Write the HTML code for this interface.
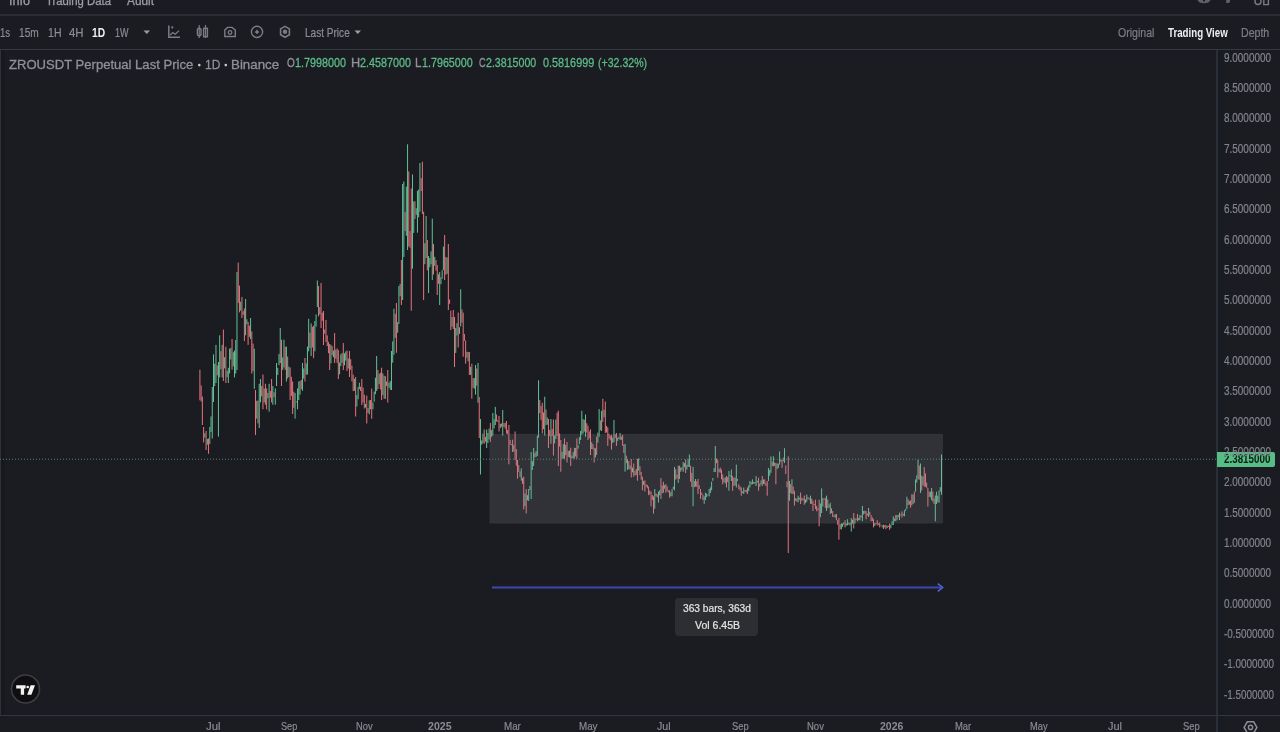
<!DOCTYPE html>
<html><head><meta charset="utf-8"><style>
*{margin:0;padding:0;box-sizing:border-box}
html,body{width:1280px;height:732px;overflow:hidden;background:#1b1c21;font-family:"Liberation Sans",sans-serif}
.abs{position:absolute}
.tx{position:absolute;white-space:nowrap;transform-origin:0 0}
#sep1{position:absolute;left:0;top:14px;width:1280px;height:2px;background:#2a2d36}
#sep2{position:absolute;left:0;top:49px;width:1280px;height:1px;background:#373941}
#lborder{position:absolute;left:0;top:50px;width:1px;height:665px;background:#2f3138}
#lstrip{position:absolute;left:1px;top:50px;width:4px;height:665px;background:#18191e}
#pstrip{position:absolute;left:1218px;top:50px;width:6px;height:682px;background:#191b23}
#pborder{position:absolute;left:1216px;top:50px;width:2px;height:682px;background:#2c2e36}
#tborder{position:absolute;left:0;top:715px;width:1280px;height:1px;background:#34363e}
</style></head><body>
<div id="sep1"></div>
<div id="sep2"></div>
<div id="lborder"></div><div id="lstrip"></div><div id="pstrip"></div>
<div id="pborder"></div>
<div id="tborder"></div>

<svg class="abs" style="left:0;top:0" width="400" height="50" viewBox="0 0 400 50">
<path d="M143.5 30.5 L150 30.5 L146.75 34 Z" fill="#9a9ca4"/>
<path d="M168.8 25.5 V37.2 H180" fill="none" stroke="#7b7d86" stroke-width="1.5"/>
<circle cx="172.3" cy="27.4" r="1.1" fill="#7b7d86"/>
<path d="M170 35 L172.8 32.6 L175.3 34.2 L179 30.6" fill="none" stroke="#7b7d86" stroke-width="1.3"/>
<path d="M199.2 25 V38 M205.5 25 V38" stroke="#7b7d86" stroke-width="1.2"/>
<rect x="197.4" y="28.3" width="3.6" height="7.6" rx="1.8" fill="none" stroke="#7b7d86" stroke-width="1.4"/>
<rect x="203.6" y="28.3" width="3.8" height="8.4" fill="none" stroke="#7b7d86" stroke-width="1.4"/>
<path d="M224.8 30 L227.5 27.4 L232 27.4 L235.3 30 V36.5 H224.8 Z" fill="none" stroke="#7b7d86" stroke-width="1.4"/>
<circle cx="230" cy="32.5" r="1.8" fill="none" stroke="#7b7d86" stroke-width="1.3"/>
<circle cx="257" cy="31.9" r="5.6" fill="none" stroke="#7b7d86" stroke-width="1.4"/>
<path d="M257 29.3 L258 30.9 L259.6 31.9 L258 32.9 L257 34.5 L256 32.9 L254.4 31.9 L256 30.9 Z" fill="#7b7d86"/>
<path d="M285 26.4 L289.4 28.9 V34.8 L285 37.3 L280.6 34.8 V28.9 Z" fill="none" stroke="#7b7d86" stroke-width="1.6"/>
<circle cx="285" cy="31.8" r="2.2" fill="#7b7d86"/>
<path d="M354.5 30.5 L361 30.5 L357.75 34 Z" fill="#9a9ca4"/>
</svg>
<svg class="abs" style="left:1190px;top:0" width="90" height="8" viewBox="1190 0 90 8">
<path d="M1197.5 0 H1210.5 Q1209 3.3 1204 3.3 Q1199 3.3 1197.5 0Z" fill="#5f616a"/>
<circle cx="1204" cy="0.6" r="1.1" fill="#1b1c21"/>
<path d="M1226.2 0 H1230 V1.5 L1229 3 H1226.2 Z" fill="#5f616a"/>
<path d="M1255.6 -2 A3 3 0 0 0 1260.4 -2" fill="none" stroke="#8f9199" stroke-width="0"/>
<circle cx="1258" cy="1.5" r="3" fill="none" stroke="#7a7c85" stroke-width="1.4"/>
<path d="M1263.8 0 V4.6 H1268.4 V0" fill="none" stroke="#7a7c85" stroke-width="1.4"/>
</svg>
<svg class="abs" style="left:0;top:0;filter:blur(0.4px)" width="1216" height="714" viewBox="0 0 1216 714">
<rect x="199.40" y="369.7" width="1.0" height="30.6" fill="#e6747d"/><rect x="200.64" y="385.5" width="1.0" height="16.0" fill="#e6747d"/><rect x="201.87" y="396.5" width="1.0" height="28.5" fill="#e6747d"/><rect x="203.11" y="427.0" width="1.0" height="15.4" fill="#e6747d"/><rect x="204.34" y="433.3" width="1.0" height="4.3" fill="#62c196"/><rect x="205.58" y="431.0" width="1.0" height="19.0" fill="#e6747d"/><rect x="206.82" y="438.9" width="1.0" height="5.8" fill="#62c196"/><rect x="208.05" y="438.5" width="1.0" height="15.3" fill="#e6747d"/><rect x="209.29" y="427.0" width="1.0" height="17.0" fill="#62c196"/><rect x="210.52" y="416.4" width="1.0" height="15.5" fill="#62c196"/><rect x="211.76" y="387.0" width="1.0" height="51.5" fill="#62c196"/><rect x="213.00" y="354.4" width="1.0" height="47.6" fill="#62c196"/><rect x="214.23" y="363.7" width="1.0" height="22.4" fill="#62c196"/><rect x="215.47" y="344.9" width="1.0" height="38.1" fill="#62c196"/><rect x="216.70" y="365.4" width="1.0" height="9.9" fill="#e6747d"/><rect x="217.94" y="362.0" width="1.0" height="74.6" fill="#62c196"/><rect x="219.18" y="335.3" width="1.0" height="42.1" fill="#62c196"/><rect x="220.41" y="351.2" width="1.0" height="17.9" fill="#e6747d"/><rect x="221.65" y="344.9" width="1.0" height="32.5" fill="#62c196"/><rect x="222.88" y="329.6" width="1.0" height="51.4" fill="#e6747d"/><rect x="224.12" y="357.2" width="1.0" height="11.1" fill="#62c196"/><rect x="225.36" y="346.8" width="1.0" height="36.2" fill="#e6747d"/><rect x="226.59" y="370.9" width="1.0" height="6.3" fill="#62c196"/><rect x="227.83" y="367.8" width="1.0" height="15.2" fill="#62c196"/><rect x="229.06" y="348.7" width="1.0" height="24.8" fill="#62c196"/><rect x="230.30" y="348.0" width="1.0" height="11.5" fill="#62c196"/><rect x="231.54" y="339.0" width="1.0" height="30.7" fill="#e6747d"/><rect x="232.77" y="352.3" width="1.0" height="14.0" fill="#62c196"/><rect x="234.01" y="350.6" width="1.0" height="26.8" fill="#62c196"/><rect x="235.24" y="340.0" width="1.0" height="33.5" fill="#62c196"/><rect x="236.48" y="272.0" width="1.0" height="98.0" fill="#62c196"/><rect x="237.72" y="262.6" width="1.0" height="40.2" fill="#e6747d"/><rect x="238.95" y="285.6" width="1.0" height="26.8" fill="#e6747d"/><rect x="240.19" y="301.7" width="1.0" height="8.9" fill="#62c196"/><rect x="241.42" y="297.0" width="1.0" height="21.0" fill="#e6747d"/><rect x="242.66" y="311.2" width="1.0" height="3.6" fill="#e6747d"/><rect x="243.90" y="308.5" width="1.0" height="32.5" fill="#e6747d"/><rect x="245.13" y="299.0" width="1.0" height="36.3" fill="#62c196"/><rect x="246.37" y="319.3" width="1.0" height="4.9" fill="#62c196"/><rect x="247.60" y="322.0" width="1.0" height="22.9" fill="#e6747d"/><rect x="248.84" y="325.6" width="1.0" height="11.2" fill="#e6747d"/><rect x="250.08" y="318.0" width="1.0" height="21.0" fill="#62c196"/><rect x="251.31" y="331.5" width="1.0" height="42.0" fill="#e6747d"/><rect x="252.55" y="343.6" width="1.0" height="27.4" fill="#e6747d"/><rect x="253.78" y="348.7" width="1.0" height="40.1" fill="#62c196"/><rect x="255.02" y="390.0" width="1.0" height="45.0" fill="#e6747d"/><rect x="256.26" y="400.8" width="1.0" height="17.8" fill="#62c196"/><rect x="257.49" y="400.5" width="1.0" height="22.9" fill="#e6747d"/><rect x="258.73" y="383.8" width="1.0" height="44.2" fill="#62c196"/><rect x="259.96" y="379.0" width="1.0" height="23.4" fill="#62c196"/><rect x="261.20" y="386.0" width="1.0" height="10.4" fill="#e6747d"/><rect x="262.44" y="374.5" width="1.0" height="34.8" fill="#e6747d"/><rect x="263.67" y="388.6" width="1.0" height="13.8" fill="#62c196"/><rect x="264.91" y="383.8" width="1.0" height="20.9" fill="#e6747d"/><rect x="266.14" y="388.4" width="1.0" height="20.9" fill="#e6747d"/><rect x="267.38" y="392.9" width="1.0" height="5.4" fill="#62c196"/><rect x="268.62" y="383.8" width="1.0" height="27.9" fill="#62c196"/><rect x="269.85" y="391.0" width="1.0" height="6.7" fill="#e6747d"/><rect x="271.09" y="379.0" width="1.0" height="23.4" fill="#e6747d"/><rect x="272.32" y="386.0" width="1.0" height="18.7" fill="#62c196"/><rect x="273.56" y="392.3" width="1.0" height="4.9" fill="#e6747d"/><rect x="274.80" y="388.4" width="1.0" height="16.3" fill="#62c196"/><rect x="276.03" y="363.0" width="1.0" height="23.0" fill="#62c196"/><rect x="277.27" y="367.8" width="1.0" height="7.1" fill="#62c196"/><rect x="278.50" y="353.9" width="1.0" height="11.3" fill="#62c196"/><rect x="279.74" y="328.0" width="1.0" height="35.0" fill="#62c196"/><rect x="280.98" y="339.7" width="1.0" height="46.3" fill="#e6747d"/><rect x="282.21" y="357.5" width="1.0" height="12.4" fill="#62c196"/><rect x="283.45" y="339.7" width="1.0" height="27.8" fill="#62c196"/><rect x="284.68" y="346.7" width="1.0" height="23.2" fill="#e6747d"/><rect x="285.92" y="346.6" width="1.0" height="34.9" fill="#62c196"/><rect x="287.16" y="356.6" width="1.0" height="21.8" fill="#e6747d"/><rect x="288.39" y="366.6" width="1.0" height="10.4" fill="#62c196"/><rect x="289.63" y="367.5" width="1.0" height="32.5" fill="#e6747d"/><rect x="290.86" y="376.8" width="1.0" height="19.1" fill="#e6747d"/><rect x="292.10" y="381.5" width="1.0" height="32.5" fill="#e6747d"/><rect x="293.34" y="391.7" width="1.0" height="16.1" fill="#e6747d"/><rect x="294.57" y="393.0" width="1.0" height="25.6" fill="#62c196"/><rect x="295.81" y="401.4" width="1.0" height="1.0" fill="#e6747d"/><rect x="297.04" y="388.4" width="1.0" height="20.9" fill="#62c196"/><rect x="298.28" y="381.5" width="1.0" height="18.5" fill="#62c196"/><rect x="299.52" y="381.0" width="1.0" height="13.6" fill="#62c196"/><rect x="300.75" y="379.9" width="1.0" height="9.2" fill="#e6747d"/><rect x="301.99" y="363.0" width="1.0" height="27.8" fill="#62c196"/><rect x="303.22" y="368.4" width="1.0" height="10.2" fill="#62c196"/><rect x="304.46" y="358.0" width="1.0" height="23.5" fill="#e6747d"/><rect x="305.70" y="363.3" width="1.0" height="11.4" fill="#62c196"/><rect x="306.93" y="346.6" width="1.0" height="27.9" fill="#62c196"/><rect x="308.17" y="318.8" width="1.0" height="32.5" fill="#62c196"/><rect x="309.40" y="332.6" width="1.0" height="15.5" fill="#e6747d"/><rect x="310.64" y="323.4" width="1.0" height="32.6" fill="#62c196"/><rect x="311.88" y="326.8" width="1.0" height="20.7" fill="#e6747d"/><rect x="313.11" y="325.7" width="1.0" height="32.5" fill="#e6747d"/><rect x="314.35" y="321.0" width="1.0" height="30.3" fill="#62c196"/><rect x="315.58" y="314.5" width="1.0" height="12.1" fill="#62c196"/><rect x="316.82" y="280.5" width="1.0" height="26.5" fill="#62c196"/><rect x="318.06" y="286.0" width="1.0" height="30.4" fill="#e6747d"/><rect x="319.29" y="307.1" width="1.0" height="7.4" fill="#62c196"/><rect x="320.53" y="283.0" width="1.0" height="45.0" fill="#e6747d"/><rect x="321.76" y="312.7" width="1.0" height="8.0" fill="#e6747d"/><rect x="323.00" y="311.0" width="1.0" height="34.0" fill="#e6747d"/><rect x="324.24" y="329.6" width="1.0" height="4.0" fill="#e6747d"/><rect x="325.47" y="320.0" width="1.0" height="22.0" fill="#e6747d"/><rect x="326.71" y="335.4" width="1.0" height="10.7" fill="#e6747d"/><rect x="327.94" y="341.8" width="1.0" height="11.4" fill="#e6747d"/><rect x="329.18" y="344.0" width="1.0" height="26.0" fill="#e6747d"/><rect x="330.42" y="344.8" width="1.0" height="18.5" fill="#62c196"/><rect x="331.65" y="346.2" width="1.0" height="9.0" fill="#e6747d"/><rect x="332.89" y="350.6" width="1.0" height="6.6" fill="#62c196"/><rect x="334.12" y="333.0" width="1.0" height="30.0" fill="#e6747d"/><rect x="335.36" y="349.5" width="1.0" height="9.1" fill="#62c196"/><rect x="336.60" y="348.4" width="1.0" height="14.5" fill="#e6747d"/><rect x="337.83" y="350.0" width="1.0" height="29.0" fill="#e6747d"/><rect x="339.07" y="362.5" width="1.0" height="11.8" fill="#62c196"/><rect x="340.30" y="354.3" width="1.0" height="11.7" fill="#62c196"/><rect x="341.54" y="353.1" width="1.0" height="9.7" fill="#62c196"/><rect x="342.78" y="343.0" width="1.0" height="27.0" fill="#e6747d"/><rect x="344.01" y="353.3" width="1.0" height="12.0" fill="#62c196"/><rect x="345.25" y="351.6" width="1.0" height="9.0" fill="#62c196"/><rect x="346.48" y="350.5" width="1.0" height="20.5" fill="#e6747d"/><rect x="347.72" y="358.4" width="1.0" height="10.1" fill="#62c196"/><rect x="348.96" y="351.0" width="1.0" height="26.0" fill="#e6747d"/><rect x="350.19" y="359.2" width="1.0" height="10.5" fill="#e6747d"/><rect x="351.43" y="365.7" width="1.0" height="15.7" fill="#e6747d"/><rect x="352.66" y="374.7" width="1.0" height="16.4" fill="#e6747d"/><rect x="353.90" y="378.8" width="1.0" height="12.0" fill="#62c196"/><rect x="355.14" y="377.0" width="1.0" height="39.5" fill="#e6747d"/><rect x="356.37" y="395.2" width="1.0" height="11.4" fill="#62c196"/><rect x="357.61" y="387.1" width="1.0" height="12.1" fill="#62c196"/><rect x="358.84" y="382.7" width="1.0" height="6.4" fill="#62c196"/><rect x="360.08" y="386.7" width="1.0" height="4.3" fill="#e6747d"/><rect x="361.32" y="379.0" width="1.0" height="26.0" fill="#e6747d"/><rect x="362.55" y="387.6" width="1.0" height="14.9" fill="#e6747d"/><rect x="363.79" y="394.7" width="1.0" height="13.8" fill="#e6747d"/><rect x="365.02" y="403.9" width="1.0" height="3.6" fill="#62c196"/><rect x="366.26" y="395.6" width="1.0" height="27.9" fill="#e6747d"/><rect x="367.50" y="408.0" width="1.0" height="4.9" fill="#e6747d"/><rect x="368.73" y="400.3" width="1.0" height="14.0" fill="#62c196"/><rect x="369.97" y="400.0" width="1.0" height="9.2" fill="#e6747d"/><rect x="371.20" y="388.6" width="1.0" height="30.2" fill="#e6747d"/><rect x="372.44" y="402.5" width="1.0" height="6.7" fill="#62c196"/><rect x="373.68" y="391.6" width="1.0" height="10.1" fill="#62c196"/><rect x="374.91" y="377.7" width="1.0" height="16.5" fill="#62c196"/><rect x="376.15" y="356.0" width="1.0" height="35.0" fill="#62c196"/><rect x="377.38" y="370.0" width="1.0" height="19.0" fill="#e6747d"/><rect x="378.62" y="373.8" width="1.0" height="10.5" fill="#62c196"/><rect x="379.86" y="372.7" width="1.0" height="16.7" fill="#e6747d"/><rect x="381.09" y="367.7" width="1.0" height="32.3" fill="#e6747d"/><rect x="382.33" y="373.3" width="1.0" height="21.8" fill="#62c196"/><rect x="383.56" y="375.7" width="1.0" height="22.9" fill="#e6747d"/><rect x="384.80" y="376.2" width="1.0" height="22.8" fill="#62c196"/><rect x="386.04" y="381.5" width="1.0" height="4.4" fill="#e6747d"/><rect x="387.27" y="370.0" width="1.0" height="32.6" fill="#e6747d"/><rect x="388.51" y="382.8" width="1.0" height="4.9" fill="#62c196"/><rect x="389.74" y="381.0" width="1.0" height="8.8" fill="#62c196"/><rect x="390.98" y="351.0" width="1.0" height="39.0" fill="#62c196"/><rect x="392.22" y="341.4" width="1.0" height="21.3" fill="#62c196"/><rect x="393.45" y="308.8" width="1.0" height="45.9" fill="#62c196"/><rect x="394.69" y="313.8" width="1.0" height="24.1" fill="#e6747d"/><rect x="395.92" y="303.0" width="1.0" height="49.8" fill="#e6747d"/><rect x="397.16" y="322.2" width="1.0" height="10.5" fill="#62c196"/><rect x="398.40" y="286.0" width="1.0" height="38.0" fill="#62c196"/><rect x="399.63" y="283.8" width="1.0" height="12.4" fill="#62c196"/><rect x="400.87" y="260.0" width="1.0" height="45.0" fill="#e6747d"/><rect x="402.10" y="184.0" width="1.0" height="116.0" fill="#62c196"/><rect x="403.34" y="181.5" width="1.0" height="75.5" fill="#62c196"/><rect x="404.58" y="212.0" width="1.0" height="19.1" fill="#e6747d"/><rect x="405.81" y="186.7" width="1.0" height="49.0" fill="#62c196"/><rect x="407.05" y="144.3" width="1.0" height="105.7" fill="#62c196"/><rect x="408.28" y="171.4" width="1.0" height="75.1" fill="#e6747d"/><rect x="409.52" y="231.1" width="1.0" height="16.6" fill="#e6747d"/><rect x="410.76" y="188.5" width="1.0" height="122.2" fill="#e6747d"/><rect x="411.99" y="174.5" width="1.0" height="94.2" fill="#62c196"/><rect x="413.23" y="201.4" width="1.0" height="31.5" fill="#62c196"/><rect x="414.46" y="201.3" width="1.0" height="17.7" fill="#e6747d"/><rect x="415.70" y="208.2" width="1.0" height="6.7" fill="#62c196"/><rect x="416.94" y="190.8" width="1.0" height="41.9" fill="#62c196"/><rect x="418.17" y="189.5" width="1.0" height="27.8" fill="#62c196"/><rect x="419.41" y="163.0" width="1.0" height="48.7" fill="#62c196"/><rect x="420.64" y="178.2" width="1.0" height="12.8" fill="#e6747d"/><rect x="421.88" y="161.7" width="1.0" height="52.3" fill="#e6747d"/><rect x="423.12" y="211.7" width="1.0" height="88.3" fill="#e6747d"/><rect x="424.35" y="243.2" width="1.0" height="21.0" fill="#62c196"/><rect x="425.59" y="216.0" width="1.0" height="42.0" fill="#62c196"/><rect x="426.82" y="240.0" width="1.0" height="30.3" fill="#e6747d"/><rect x="428.06" y="256.0" width="1.0" height="37.0" fill="#62c196"/><rect x="429.30" y="258.1" width="1.0" height="9.1" fill="#62c196"/><rect x="430.53" y="251.4" width="1.0" height="12.9" fill="#62c196"/><rect x="431.77" y="218.7" width="1.0" height="61.3" fill="#62c196"/><rect x="433.00" y="244.0" width="1.0" height="30.5" fill="#e6747d"/><rect x="434.24" y="256.8" width="1.0" height="8.9" fill="#62c196"/><rect x="435.48" y="260.1" width="1.0" height="10.5" fill="#e6747d"/><rect x="436.71" y="265.0" width="1.0" height="30.0" fill="#e6747d"/><rect x="437.95" y="274.2" width="1.0" height="9.5" fill="#e6747d"/><rect x="439.18" y="272.0" width="1.0" height="33.0" fill="#62c196"/><rect x="440.42" y="277.2" width="1.0" height="7.0" fill="#62c196"/><rect x="441.66" y="270.1" width="1.0" height="8.6" fill="#62c196"/><rect x="442.89" y="246.6" width="1.0" height="23.4" fill="#62c196"/><rect x="444.13" y="235.0" width="1.0" height="45.0" fill="#e6747d"/><rect x="445.36" y="257.0" width="1.0" height="17.7" fill="#e6747d"/><rect x="446.60" y="257.5" width="1.0" height="16.3" fill="#62c196"/><rect x="447.84" y="244.0" width="1.0" height="66.0" fill="#e6747d"/><rect x="449.07" y="299.5" width="1.0" height="4.3" fill="#e6747d"/><rect x="450.31" y="310.7" width="1.0" height="19.3" fill="#e6747d"/><rect x="451.54" y="317.0" width="1.0" height="9.6" fill="#62c196"/><rect x="452.78" y="310.0" width="1.0" height="19.0" fill="#e6747d"/><rect x="454.02" y="317.0" width="1.0" height="50.0" fill="#e6747d"/><rect x="455.25" y="327.9" width="1.0" height="25.0" fill="#62c196"/><rect x="456.49" y="323.2" width="1.0" height="12.3" fill="#62c196"/><rect x="457.72" y="312.6" width="1.0" height="34.8" fill="#e6747d"/><rect x="458.96" y="327.3" width="1.0" height="6.6" fill="#62c196"/><rect x="460.20" y="289.3" width="1.0" height="37.2" fill="#62c196"/><rect x="461.43" y="309.5" width="1.0" height="13.2" fill="#e6747d"/><rect x="462.67" y="312.6" width="1.0" height="44.1" fill="#e6747d"/><rect x="463.90" y="333.9" width="1.0" height="6.9" fill="#e6747d"/><rect x="465.14" y="340.5" width="1.0" height="23.2" fill="#e6747d"/><rect x="466.38" y="351.7" width="1.0" height="6.0" fill="#e6747d"/><rect x="467.61" y="352.0" width="1.0" height="9.3" fill="#62c196"/><rect x="468.85" y="352.0" width="1.0" height="23.0" fill="#e6747d"/><rect x="470.08" y="366.9" width="1.0" height="7.9" fill="#62c196"/><rect x="471.32" y="363.7" width="1.0" height="35.0" fill="#e6747d"/><rect x="472.56" y="378.3" width="1.0" height="9.5" fill="#e6747d"/><rect x="473.79" y="378.0" width="1.0" height="10.7" fill="#62c196"/><rect x="475.03" y="365.0" width="1.0" height="29.6" fill="#62c196"/><rect x="476.26" y="368.5" width="1.0" height="17.2" fill="#e6747d"/><rect x="477.50" y="363.0" width="1.0" height="39.8" fill="#62c196"/><rect x="478.74" y="397.0" width="1.0" height="41.0" fill="#e6747d"/><rect x="479.97" y="419.0" width="1.0" height="55.5" fill="#62c196"/><rect x="481.21" y="440.5" width="1.0" height="4.1" fill="#62c196"/><rect x="482.44" y="433.6" width="1.0" height="9.7" fill="#62c196"/><rect x="483.68" y="429.5" width="1.0" height="14.3" fill="#e6747d"/><rect x="484.92" y="436.9" width="1.0" height="4.8" fill="#e6747d"/><rect x="486.15" y="429.5" width="1.0" height="18.5" fill="#62c196"/><rect x="487.39" y="433.0" width="1.0" height="10.0" fill="#62c196"/><rect x="488.62" y="428.6" width="1.0" height="10.8" fill="#62c196"/><rect x="489.86" y="423.0" width="1.0" height="18.8" fill="#e6747d"/><rect x="491.10" y="430.1" width="1.0" height="6.7" fill="#62c196"/><rect x="492.33" y="413.0" width="1.0" height="22.6" fill="#62c196"/><rect x="493.57" y="419.3" width="1.0" height="9.0" fill="#62c196"/><rect x="494.80" y="406.9" width="1.0" height="18.1" fill="#62c196"/><rect x="496.04" y="414.5" width="1.0" height="7.0" fill="#e6747d"/><rect x="497.28" y="420.4" width="1.0" height="1.5" fill="#e6747d"/><rect x="498.51" y="416.0" width="1.0" height="15.5" fill="#e6747d"/><rect x="499.75" y="423.8" width="1.0" height="4.4" fill="#62c196"/><rect x="500.98" y="423.5" width="1.0" height="3.1" fill="#e6747d"/><rect x="502.22" y="410.0" width="1.0" height="25.6" fill="#62c196"/><rect x="503.46" y="423.1" width="1.0" height="3.9" fill="#e6747d"/><rect x="504.69" y="422.8" width="1.0" height="5.9" fill="#e6747d"/><rect x="505.93" y="421.0" width="1.0" height="12.5" fill="#e6747d"/><rect x="507.16" y="429.9" width="1.0" height="4.5" fill="#e6747d"/><rect x="508.40" y="425.0" width="1.0" height="39.3" fill="#e6747d"/><rect x="509.64" y="440.0" width="1.0" height="4.8" fill="#e6747d"/><rect x="510.87" y="444.1" width="1.0" height="1.1" fill="#e6747d"/><rect x="512.11" y="439.7" width="1.0" height="12.3" fill="#e6747d"/><rect x="513.34" y="444.9" width="1.0" height="6.8" fill="#62c196"/><rect x="514.58" y="431.5" width="1.0" height="28.5" fill="#e6747d"/><rect x="515.82" y="449.1" width="1.0" height="16.7" fill="#e6747d"/><rect x="517.05" y="460.0" width="1.0" height="18.7" fill="#e6747d"/><rect x="518.29" y="465.2" width="1.0" height="6.7" fill="#e6747d"/><rect x="519.52" y="471.4" width="1.0" height="5.6" fill="#e6747d"/><rect x="520.76" y="468.4" width="1.0" height="12.3" fill="#62c196"/><rect x="522.00" y="477.9" width="1.0" height="6.0" fill="#e6747d"/><rect x="523.23" y="476.6" width="1.0" height="32.8" fill="#e6747d"/><rect x="524.47" y="493.5" width="1.0" height="12.7" fill="#62c196"/><rect x="525.70" y="489.0" width="1.0" height="24.5" fill="#e6747d"/><rect x="526.94" y="495.1" width="1.0" height="5.2" fill="#62c196"/><rect x="528.18" y="489.0" width="1.0" height="12.0" fill="#62c196"/><rect x="529.41" y="486.0" width="1.0" height="4.1" fill="#62c196"/><rect x="530.65" y="452.0" width="1.0" height="47.0" fill="#62c196"/><rect x="531.88" y="461.1" width="1.0" height="8.8" fill="#62c196"/><rect x="533.12" y="448.0" width="1.0" height="18.0" fill="#62c196"/><rect x="534.36" y="452.9" width="1.0" height="4.5" fill="#e6747d"/><rect x="535.59" y="451.1" width="1.0" height="5.9" fill="#62c196"/><rect x="536.83" y="435.6" width="1.0" height="20.4" fill="#62c196"/><rect x="538.06" y="380.3" width="1.0" height="57.3" fill="#62c196"/><rect x="539.30" y="400.1" width="1.0" height="13.0" fill="#e6747d"/><rect x="540.54" y="405.9" width="1.0" height="14.0" fill="#e6747d"/><rect x="541.77" y="402.8" width="1.0" height="30.7" fill="#e6747d"/><rect x="543.01" y="412.5" width="1.0" height="16.6" fill="#e6747d"/><rect x="544.24" y="396.7" width="1.0" height="38.9" fill="#62c196"/><rect x="545.48" y="409.3" width="1.0" height="15.8" fill="#e6747d"/><rect x="546.72" y="417.4" width="1.0" height="7.3" fill="#62c196"/><rect x="547.95" y="419.0" width="1.0" height="29.0" fill="#e6747d"/><rect x="549.19" y="430.1" width="1.0" height="6.0" fill="#e6747d"/><rect x="550.42" y="419.0" width="1.0" height="24.8" fill="#62c196"/><rect x="551.66" y="429.0" width="1.0" height="7.0" fill="#e6747d"/><rect x="552.90" y="419.5" width="1.0" height="36.0" fill="#e6747d"/><rect x="554.13" y="435.6" width="1.0" height="7.8" fill="#62c196"/><rect x="555.37" y="419.5" width="1.0" height="19.5" fill="#62c196"/><rect x="556.60" y="412.7" width="1.0" height="23.3" fill="#e6747d"/><rect x="557.84" y="410.8" width="1.0" height="55.2" fill="#e6747d"/><rect x="559.08" y="433.4" width="1.0" height="13.2" fill="#e6747d"/><rect x="560.31" y="440.0" width="1.0" height="31.7" fill="#e6747d"/><rect x="561.55" y="451.9" width="1.0" height="6.8" fill="#62c196"/><rect x="562.78" y="444.2" width="1.0" height="14.5" fill="#62c196"/><rect x="564.02" y="438.5" width="1.0" height="20.3" fill="#e6747d"/><rect x="565.26" y="445.0" width="1.0" height="10.2" fill="#62c196"/><rect x="566.49" y="442.0" width="1.0" height="20.5" fill="#e6747d"/><rect x="567.73" y="450.8" width="1.0" height="6.2" fill="#e6747d"/><rect x="568.96" y="450.6" width="1.0" height="6.9" fill="#62c196"/><rect x="570.20" y="447.7" width="1.0" height="18.3" fill="#e6747d"/><rect x="571.44" y="455.6" width="1.0" height="2.9" fill="#62c196"/><rect x="572.67" y="451.9" width="1.0" height="6.2" fill="#62c196"/><rect x="573.91" y="447.7" width="1.0" height="11.1" fill="#e6747d"/><rect x="575.14" y="448.0" width="1.0" height="8.4" fill="#62c196"/><rect x="576.38" y="438.5" width="1.0" height="20.3" fill="#e6747d"/><rect x="577.62" y="445.2" width="1.0" height="3.4" fill="#62c196"/><rect x="578.85" y="437.2" width="1.0" height="6.9" fill="#62c196"/><rect x="580.09" y="431.0" width="1.0" height="9.0" fill="#62c196"/><rect x="581.32" y="410.8" width="1.0" height="24.0" fill="#62c196"/><rect x="582.56" y="419.1" width="1.0" height="14.5" fill="#62c196"/><rect x="583.80" y="419.7" width="1.0" height="11.9" fill="#e6747d"/><rect x="585.03" y="414.5" width="1.0" height="22.2" fill="#62c196"/><rect x="586.27" y="423.2" width="1.0" height="9.3" fill="#e6747d"/><rect x="587.50" y="425.6" width="1.0" height="14.4" fill="#e6747d"/><rect x="588.74" y="431.5" width="1.0" height="6.7" fill="#e6747d"/><rect x="589.98" y="429.3" width="1.0" height="25.7" fill="#e6747d"/><rect x="591.21" y="442.3" width="1.0" height="6.7" fill="#62c196"/><rect x="592.45" y="444.0" width="1.0" height="5.5" fill="#e6747d"/><rect x="593.68" y="447.7" width="1.0" height="14.8" fill="#e6747d"/><rect x="594.92" y="448.3" width="1.0" height="9.1" fill="#62c196"/><rect x="596.16" y="436.7" width="1.0" height="18.3" fill="#e6747d"/><rect x="597.39" y="432.6" width="1.0" height="10.1" fill="#62c196"/><rect x="598.63" y="409.0" width="1.0" height="27.7" fill="#62c196"/><rect x="599.86" y="420.4" width="1.0" height="9.9" fill="#e6747d"/><rect x="601.10" y="410.8" width="1.0" height="20.2" fill="#62c196"/><rect x="602.34" y="398.8" width="1.0" height="23.2" fill="#e6747d"/><rect x="603.57" y="409.8" width="1.0" height="7.3" fill="#62c196"/><rect x="604.81" y="401.6" width="1.0" height="31.4" fill="#e6747d"/><rect x="606.04" y="425.9" width="1.0" height="6.5" fill="#e6747d"/><rect x="607.28" y="427.4" width="1.0" height="18.5" fill="#e6747d"/><rect x="608.52" y="433.7" width="1.0" height="4.8" fill="#e6747d"/><rect x="609.75" y="435.7" width="1.0" height="4.5" fill="#e6747d"/><rect x="610.99" y="434.8" width="1.0" height="14.8" fill="#e6747d"/><rect x="612.22" y="437.7" width="1.0" height="5.3" fill="#62c196"/><rect x="613.46" y="420.0" width="1.0" height="22.0" fill="#62c196"/><rect x="614.70" y="434.3" width="1.0" height="3.8" fill="#e6747d"/><rect x="615.93" y="433.0" width="1.0" height="12.9" fill="#e6747d"/><rect x="617.17" y="437.8" width="1.0" height="3.1" fill="#62c196"/><rect x="618.40" y="437.0" width="1.0" height="1.8" fill="#62c196"/><rect x="619.64" y="433.0" width="1.0" height="7.0" fill="#62c196"/><rect x="620.88" y="436.6" width="1.0" height="3.1" fill="#e6747d"/><rect x="622.11" y="434.8" width="1.0" height="11.1" fill="#e6747d"/><rect x="623.35" y="444.5" width="1.0" height="8.5" fill="#e6747d"/><rect x="624.58" y="444.0" width="1.0" height="27.7" fill="#62c196"/><rect x="625.82" y="455.6" width="1.0" height="7.6" fill="#e6747d"/><rect x="627.06" y="458.8" width="1.0" height="11.2" fill="#62c196"/><rect x="628.29" y="461.0" width="1.0" height="8.0" fill="#e6747d"/><rect x="629.53" y="465.5" width="1.0" height="4.0" fill="#62c196"/><rect x="630.76" y="459.0" width="1.0" height="18.5" fill="#e6747d"/><rect x="632.00" y="467.7" width="1.0" height="4.7" fill="#62c196"/><rect x="633.24" y="463.5" width="1.0" height="13.2" fill="#e6747d"/><rect x="634.47" y="470.9" width="1.0" height="4.3" fill="#e6747d"/><rect x="635.71" y="468.9" width="1.0" height="6.3" fill="#62c196"/><rect x="636.94" y="459.0" width="1.0" height="21.7" fill="#e6747d"/><rect x="638.18" y="458.3" width="1.0" height="12.3" fill="#62c196"/><rect x="639.42" y="466.2" width="1.0" height="9.0" fill="#e6747d"/><rect x="640.65" y="472.0" width="1.0" height="7.7" fill="#e6747d"/><rect x="641.89" y="476.7" width="1.0" height="13.6" fill="#e6747d"/><rect x="643.12" y="480.9" width="1.0" height="4.1" fill="#62c196"/><rect x="644.36" y="480.4" width="1.0" height="11.1" fill="#e6747d"/><rect x="645.60" y="484.6" width="1.0" height="2.1" fill="#e6747d"/><rect x="646.83" y="484.8" width="1.0" height="3.5" fill="#e6747d"/><rect x="648.07" y="486.6" width="1.0" height="8.6" fill="#e6747d"/><rect x="649.30" y="490.5" width="1.0" height="3.9" fill="#e6747d"/><rect x="650.54" y="491.5" width="1.0" height="14.8" fill="#e6747d"/><rect x="651.78" y="495.0" width="1.0" height="5.0" fill="#e6747d"/><rect x="653.01" y="496.4" width="1.0" height="17.2" fill="#e6747d"/><rect x="654.25" y="489.0" width="1.0" height="19.7" fill="#62c196"/><rect x="655.48" y="493.4" width="1.0" height="2.9" fill="#e6747d"/><rect x="656.72" y="494.2" width="1.0" height="3.1" fill="#e6747d"/><rect x="657.96" y="491.5" width="1.0" height="11.1" fill="#62c196"/><rect x="659.19" y="490.2" width="1.0" height="5.1" fill="#62c196"/><rect x="660.43" y="478.0" width="1.0" height="20.9" fill="#e6747d"/><rect x="661.66" y="485.5" width="1.0" height="7.8" fill="#62c196"/><rect x="662.90" y="481.7" width="1.0" height="11.0" fill="#e6747d"/><rect x="664.14" y="485.1" width="1.0" height="3.6" fill="#62c196"/><rect x="665.37" y="484.0" width="1.0" height="8.7" fill="#e6747d"/><rect x="666.61" y="486.3" width="1.0" height="4.9" fill="#e6747d"/><rect x="667.84" y="490.4" width="1.0" height="2.0" fill="#e6747d"/><rect x="669.08" y="490.3" width="1.0" height="7.4" fill="#e6747d"/><rect x="670.32" y="492.1" width="1.0" height="4.2" fill="#62c196"/><rect x="671.55" y="489.0" width="1.0" height="7.4" fill="#62c196"/><rect x="672.79" y="486.7" width="1.0" height="2.3" fill="#62c196"/><rect x="674.02" y="466.9" width="1.0" height="23.4" fill="#62c196"/><rect x="675.26" y="469.3" width="1.0" height="10.3" fill="#e6747d"/><rect x="676.50" y="474.8" width="1.0" height="3.5" fill="#e6747d"/><rect x="677.73" y="465.7" width="1.0" height="17.2" fill="#62c196"/><rect x="678.97" y="465.7" width="1.0" height="13.3" fill="#e6747d"/><rect x="680.20" y="467.5" width="1.0" height="4.2" fill="#62c196"/><rect x="681.44" y="467.3" width="1.0" height="2.7" fill="#e6747d"/><rect x="682.68" y="462.0" width="1.0" height="9.8" fill="#62c196"/><rect x="683.91" y="463.1" width="1.0" height="4.0" fill="#62c196"/><rect x="685.15" y="459.5" width="1.0" height="13.5" fill="#e6747d"/><rect x="686.38" y="464.8" width="1.0" height="4.7" fill="#62c196"/><rect x="687.62" y="459.2" width="1.0" height="7.8" fill="#62c196"/><rect x="688.86" y="454.6" width="1.0" height="12.3" fill="#62c196"/><rect x="690.09" y="465.7" width="1.0" height="16.0" fill="#e6747d"/><rect x="691.33" y="472.8" width="1.0" height="14.2" fill="#e6747d"/><rect x="692.56" y="466.9" width="1.0" height="39.4" fill="#62c196"/><rect x="693.80" y="481.0" width="1.0" height="6.3" fill="#e6747d"/><rect x="695.04" y="479.0" width="1.0" height="7.6" fill="#62c196"/><rect x="696.27" y="481.3" width="1.0" height="5.6" fill="#e6747d"/><rect x="697.51" y="479.0" width="1.0" height="15.0" fill="#e6747d"/><rect x="698.74" y="485.3" width="1.0" height="3.7" fill="#e6747d"/><rect x="699.98" y="489.0" width="1.0" height="9.9" fill="#e6747d"/><rect x="701.22" y="492.6" width="1.0" height="2.3" fill="#e6747d"/><rect x="702.45" y="494.6" width="1.0" height="5.4" fill="#e6747d"/><rect x="703.69" y="496.4" width="1.0" height="7.4" fill="#62c196"/><rect x="704.92" y="492.7" width="1.0" height="7.3" fill="#62c196"/><rect x="706.16" y="493.6" width="1.0" height="3.5" fill="#62c196"/><rect x="707.40" y="494.5" width="1.0" height="1.0" fill="#62c196"/><rect x="708.63" y="489.0" width="1.0" height="7.4" fill="#62c196"/><rect x="709.87" y="487.4" width="1.0" height="5.6" fill="#62c196"/><rect x="711.10" y="481.7" width="1.0" height="8.6" fill="#62c196"/><rect x="712.34" y="478.0" width="1.0" height="2.8" fill="#62c196"/><rect x="713.58" y="468.1" width="1.0" height="4.0" fill="#62c196"/><rect x="714.81" y="446.0" width="1.0" height="26.0" fill="#62c196"/><rect x="716.05" y="458.5" width="1.0" height="4.7" fill="#e6747d"/><rect x="717.28" y="459.7" width="1.0" height="18.0" fill="#e6747d"/><rect x="718.52" y="468.9" width="1.0" height="3.4" fill="#62c196"/><rect x="719.76" y="467.6" width="1.0" height="5.1" fill="#e6747d"/><rect x="720.99" y="469.5" width="1.0" height="9.8" fill="#e6747d"/><rect x="722.23" y="474.4" width="1.0" height="9.9" fill="#e6747d"/><rect x="723.46" y="478.0" width="1.0" height="4.2" fill="#e6747d"/><rect x="724.70" y="477.4" width="1.0" height="6.0" fill="#62c196"/><rect x="725.94" y="476.0" width="1.0" height="11.5" fill="#e6747d"/><rect x="727.17" y="477.2" width="1.0" height="4.8" fill="#e6747d"/><rect x="728.41" y="471.0" width="1.0" height="19.8" fill="#62c196"/><rect x="729.64" y="474.9" width="1.0" height="1.7" fill="#e6747d"/><rect x="730.88" y="469.5" width="1.0" height="11.5" fill="#62c196"/><rect x="732.12" y="476.0" width="1.0" height="14.8" fill="#e6747d"/><rect x="733.35" y="477.7" width="1.0" height="8.2" fill="#e6747d"/><rect x="734.59" y="477.5" width="1.0" height="8.0" fill="#62c196"/><rect x="735.82" y="464.6" width="1.0" height="22.9" fill="#62c196"/><rect x="737.06" y="479.0" width="1.0" height="1.9" fill="#e6747d"/><rect x="738.30" y="484.3" width="1.0" height="4.9" fill="#e6747d"/><rect x="739.53" y="486.3" width="1.0" height="4.2" fill="#e6747d"/><rect x="740.77" y="487.5" width="1.0" height="8.2" fill="#e6747d"/><rect x="742.00" y="491.5" width="1.0" height="1.4" fill="#62c196"/><rect x="743.24" y="487.5" width="1.0" height="6.5" fill="#62c196"/><rect x="744.48" y="489.9" width="1.0" height="1.9" fill="#e6747d"/><rect x="745.71" y="489.8" width="1.0" height="2.6" fill="#62c196"/><rect x="746.95" y="487.5" width="1.0" height="6.5" fill="#e6747d"/><rect x="748.18" y="485.3" width="1.0" height="5.8" fill="#62c196"/><rect x="749.42" y="481.0" width="1.0" height="6.5" fill="#62c196"/><rect x="750.66" y="482.1" width="1.0" height="2.5" fill="#62c196"/><rect x="751.89" y="479.3" width="1.0" height="5.0" fill="#62c196"/><rect x="753.13" y="482.0" width="1.0" height="1.6" fill="#e6747d"/><rect x="754.36" y="482.0" width="1.0" height="1.8" fill="#62c196"/><rect x="755.60" y="476.0" width="1.0" height="10.0" fill="#62c196"/><rect x="756.84" y="480.8" width="1.0" height="1.6" fill="#62c196"/><rect x="758.07" y="477.7" width="1.0" height="13.1" fill="#e6747d"/><rect x="759.31" y="483.6" width="1.0" height="3.2" fill="#62c196"/><rect x="760.54" y="480.4" width="1.0" height="4.1" fill="#62c196"/><rect x="761.78" y="476.0" width="1.0" height="10.0" fill="#e6747d"/><rect x="763.02" y="479.5" width="1.0" height="4.5" fill="#62c196"/><rect x="764.25" y="479.3" width="1.0" height="5.0" fill="#e6747d"/><rect x="765.49" y="482.8" width="1.0" height="3.3" fill="#e6747d"/><rect x="766.72" y="481.0" width="1.0" height="14.7" fill="#e6747d"/><rect x="767.96" y="467.9" width="1.0" height="13.1" fill="#62c196"/><rect x="769.20" y="469.9" width="1.0" height="5.8" fill="#62c196"/><rect x="770.43" y="456.4" width="1.0" height="16.4" fill="#62c196"/><rect x="771.67" y="461.7" width="1.0" height="4.6" fill="#e6747d"/><rect x="772.90" y="456.4" width="1.0" height="9.8" fill="#62c196"/><rect x="774.14" y="462.6" width="1.0" height="3.3" fill="#e6747d"/><rect x="775.38" y="463.0" width="1.0" height="21.3" fill="#e6747d"/><rect x="776.61" y="463.5" width="1.0" height="5.6" fill="#62c196"/><rect x="777.85" y="463.6" width="1.0" height="4.3" fill="#62c196"/><rect x="779.08" y="451.5" width="1.0" height="13.1" fill="#62c196"/><rect x="780.32" y="459.3" width="1.0" height="2.4" fill="#e6747d"/><rect x="781.56" y="459.7" width="1.0" height="8.2" fill="#e6747d"/><rect x="782.79" y="457.6" width="1.0" height="3.7" fill="#62c196"/><rect x="784.03" y="448.2" width="1.0" height="14.8" fill="#62c196"/><rect x="785.26" y="465.5" width="1.0" height="8.5" fill="#e6747d"/><rect x="786.50" y="481.4" width="1.0" height="5.9" fill="#e6747d"/><rect x="787.74" y="456.4" width="1.0" height="96.6" fill="#e6747d"/><rect x="788.97" y="481.0" width="1.0" height="19.7" fill="#62c196"/><rect x="790.21" y="484.1" width="1.0" height="8.9" fill="#e6747d"/><rect x="791.44" y="479.3" width="1.0" height="14.7" fill="#62c196"/><rect x="792.68" y="486.5" width="1.0" height="7.5" fill="#e6747d"/><rect x="793.92" y="490.8" width="1.0" height="14.8" fill="#e6747d"/><rect x="795.15" y="498.4" width="1.0" height="2.4" fill="#62c196"/><rect x="796.39" y="498.3" width="1.0" height="3.4" fill="#e6747d"/><rect x="797.62" y="495.7" width="1.0" height="6.6" fill="#62c196"/><rect x="798.86" y="497.6" width="1.0" height="2.1" fill="#62c196"/><rect x="800.10" y="492.5" width="1.0" height="11.5" fill="#e6747d"/><rect x="801.33" y="497.7" width="1.0" height="3.0" fill="#e6747d"/><rect x="802.57" y="498.5" width="1.0" height="1.8" fill="#62c196"/><rect x="803.80" y="495.6" width="1.0" height="9.1" fill="#e6747d"/><rect x="805.04" y="499.3" width="1.0" height="3.8" fill="#62c196"/><rect x="806.28" y="494.6" width="1.0" height="7.2" fill="#62c196"/><rect x="807.51" y="497.1" width="1.0" height="2.1" fill="#e6747d"/><rect x="808.75" y="498.3" width="1.0" height="1.4" fill="#62c196"/><rect x="809.98" y="495.6" width="1.0" height="8.2" fill="#62c196"/><rect x="811.22" y="498.6" width="1.0" height="5.4" fill="#e6747d"/><rect x="812.46" y="500.7" width="1.0" height="10.3" fill="#e6747d"/><rect x="813.69" y="504.0" width="1.0" height="1.0" fill="#e6747d"/><rect x="814.93" y="499.7" width="1.0" height="9.3" fill="#e6747d"/><rect x="816.16" y="505.8" width="1.0" height="5.5" fill="#e6747d"/><rect x="817.40" y="508.2" width="1.0" height="2.0" fill="#e6747d"/><rect x="818.64" y="499.7" width="1.0" height="26.7" fill="#e6747d"/><rect x="819.87" y="503.4" width="1.0" height="13.8" fill="#62c196"/><rect x="821.11" y="488.4" width="1.0" height="24.6" fill="#62c196"/><rect x="822.34" y="498.1" width="1.0" height="8.4" fill="#62c196"/><rect x="823.58" y="498.7" width="1.0" height="1.1" fill="#e6747d"/><rect x="824.82" y="497.7" width="1.0" height="10.3" fill="#e6747d"/><rect x="826.05" y="495.6" width="1.0" height="15.4" fill="#62c196"/><rect x="827.29" y="499.5" width="1.0" height="8.8" fill="#e6747d"/><rect x="828.52" y="504.5" width="1.0" height="3.1" fill="#62c196"/><rect x="829.76" y="502.8" width="1.0" height="11.2" fill="#62c196"/><rect x="831.00" y="508.4" width="1.0" height="4.7" fill="#e6747d"/><rect x="832.23" y="511.0" width="1.0" height="6.0" fill="#e6747d"/><rect x="833.47" y="515.3" width="1.0" height="1.6" fill="#e6747d"/><rect x="834.70" y="514.3" width="1.0" height="3.4" fill="#62c196"/><rect x="835.94" y="514.0" width="1.0" height="6.2" fill="#e6747d"/><rect x="837.18" y="520.1" width="1.0" height="4.7" fill="#e6747d"/><rect x="838.41" y="518.0" width="1.0" height="21.7" fill="#e6747d"/><rect x="839.65" y="524.2" width="1.0" height="5.0" fill="#e6747d"/><rect x="840.88" y="523.3" width="1.0" height="6.1" fill="#62c196"/><rect x="842.12" y="523.4" width="1.0" height="3.6" fill="#62c196"/><rect x="843.36" y="522.4" width="1.0" height="2.4" fill="#62c196"/><rect x="844.59" y="520.2" width="1.0" height="7.2" fill="#e6747d"/><rect x="845.83" y="523.4" width="1.0" height="2.2" fill="#62c196"/><rect x="847.06" y="519.2" width="1.0" height="6.1" fill="#62c196"/><rect x="848.30" y="522.5" width="1.0" height="2.1" fill="#e6747d"/><rect x="849.54" y="522.6" width="1.0" height="2.8" fill="#62c196"/><rect x="850.77" y="518.0" width="1.0" height="13.5" fill="#62c196"/><rect x="852.01" y="519.7" width="1.0" height="4.0" fill="#62c196"/><rect x="853.24" y="513.0" width="1.0" height="15.4" fill="#e6747d"/><rect x="854.48" y="518.2" width="1.0" height="5.3" fill="#62c196"/><rect x="855.72" y="518.7" width="1.0" height="1.0" fill="#62c196"/><rect x="856.95" y="514.0" width="1.0" height="7.2" fill="#e6747d"/><rect x="858.19" y="517.8" width="1.0" height="2.5" fill="#62c196"/><rect x="859.42" y="515.0" width="1.0" height="5.2" fill="#62c196"/><rect x="860.66" y="515.6" width="1.0" height="1.9" fill="#e6747d"/><rect x="861.90" y="505.9" width="1.0" height="15.3" fill="#62c196"/><rect x="863.13" y="511.0" width="1.0" height="3.4" fill="#62c196"/><rect x="864.37" y="510.7" width="1.0" height="2.9" fill="#e6747d"/><rect x="865.60" y="511.0" width="1.0" height="8.2" fill="#e6747d"/><rect x="866.84" y="513.5" width="1.0" height="2.0" fill="#e6747d"/><rect x="868.08" y="508.0" width="1.0" height="9.0" fill="#62c196"/><rect x="869.31" y="511.8" width="1.0" height="3.6" fill="#e6747d"/><rect x="870.55" y="515.0" width="1.0" height="6.2" fill="#e6747d"/><rect x="871.78" y="517.3" width="1.0" height="3.8" fill="#e6747d"/><rect x="873.02" y="519.2" width="1.0" height="8.2" fill="#e6747d"/><rect x="874.26" y="523.0" width="1.0" height="2.9" fill="#62c196"/><rect x="875.49" y="522.8" width="1.0" height="1.4" fill="#e6747d"/><rect x="876.73" y="520.2" width="1.0" height="5.3" fill="#e6747d"/><rect x="877.96" y="523.4" width="1.0" height="1.4" fill="#e6747d"/><rect x="879.20" y="522.4" width="1.0" height="5.0" fill="#e6747d"/><rect x="880.44" y="524.7" width="1.0" height="1.0" fill="#e6747d"/><rect x="881.67" y="525.4" width="1.0" height="2.0" fill="#e6747d"/><rect x="882.91" y="524.6" width="1.0" height="4.4" fill="#62c196"/><rect x="884.14" y="525.3" width="1.0" height="2.1" fill="#e6747d"/><rect x="885.38" y="524.6" width="1.0" height="4.6" fill="#e6747d"/><rect x="886.62" y="525.7" width="1.0" height="2.3" fill="#62c196"/><rect x="887.85" y="525.7" width="1.0" height="1.3" fill="#e6747d"/><rect x="889.09" y="523.5" width="1.0" height="6.4" fill="#e6747d"/><rect x="890.32" y="524.7" width="1.0" height="3.5" fill="#62c196"/><rect x="891.56" y="521.3" width="1.0" height="3.9" fill="#62c196"/><rect x="892.80" y="516.3" width="1.0" height="8.7" fill="#62c196"/><rect x="894.03" y="518.6" width="1.0" height="2.3" fill="#62c196"/><rect x="895.27" y="515.0" width="1.0" height="6.3" fill="#e6747d"/><rect x="896.50" y="514.9" width="1.0" height="5.3" fill="#62c196"/><rect x="897.74" y="515.0" width="1.0" height="2.3" fill="#e6747d"/><rect x="898.98" y="512.6" width="1.0" height="7.4" fill="#62c196"/><rect x="900.21" y="514.4" width="1.0" height="1.0" fill="#e6747d"/><rect x="901.45" y="511.4" width="1.0" height="6.2" fill="#e6747d"/><rect x="902.68" y="513.6" width="1.0" height="2.1" fill="#62c196"/><rect x="903.92" y="510.2" width="1.0" height="6.1" fill="#62c196"/><rect x="905.16" y="508.9" width="1.0" height="1.9" fill="#62c196"/><rect x="906.39" y="496.7" width="1.0" height="12.3" fill="#62c196"/><rect x="907.63" y="499.3" width="1.0" height="5.9" fill="#e6747d"/><rect x="908.86" y="501.2" width="1.0" height="3.4" fill="#62c196"/><rect x="910.10" y="500.3" width="1.0" height="7.4" fill="#e6747d"/><rect x="911.34" y="494.2" width="1.0" height="11.1" fill="#e6747d"/><rect x="912.57" y="494.6" width="1.0" height="9.4" fill="#62c196"/><rect x="913.81" y="491.7" width="1.0" height="11.1" fill="#e6747d"/><rect x="915.04" y="479.4" width="1.0" height="12.3" fill="#62c196"/><rect x="916.28" y="475.4" width="1.0" height="7.2" fill="#62c196"/><rect x="917.52" y="459.8" width="1.0" height="19.6" fill="#62c196"/><rect x="918.75" y="465.5" width="1.0" height="14.2" fill="#e6747d"/><rect x="919.99" y="463.5" width="1.0" height="29.5" fill="#62c196"/><rect x="921.22" y="475.7" width="1.0" height="14.8" fill="#e6747d"/><rect x="922.46" y="476.4" width="1.0" height="8.9" fill="#62c196"/><rect x="923.70" y="467.1" width="1.0" height="19.7" fill="#e6747d"/><rect x="924.93" y="473.3" width="1.0" height="13.5" fill="#e6747d"/><rect x="926.17" y="482.6" width="1.0" height="5.5" fill="#e6747d"/><rect x="927.40" y="488.0" width="1.0" height="18.5" fill="#e6747d"/><rect x="928.64" y="491.6" width="1.0" height="5.2" fill="#e6747d"/><rect x="929.88" y="491.6" width="1.0" height="5.8" fill="#62c196"/><rect x="931.11" y="488.0" width="1.0" height="12.3" fill="#62c196"/><rect x="932.35" y="491.7" width="1.0" height="9.9" fill="#e6747d"/><rect x="933.58" y="498.4" width="1.0" height="5.6" fill="#e6747d"/><rect x="934.82" y="495.4" width="1.0" height="25.9" fill="#62c196"/><rect x="936.06" y="491.7" width="1.0" height="12.3" fill="#62c196"/><rect x="937.29" y="495.7" width="1.0" height="6.4" fill="#62c196"/><rect x="938.53" y="490.5" width="1.0" height="12.3" fill="#62c196"/><rect x="939.76" y="487.1" width="1.0" height="4.5" fill="#62c196"/><rect x="941.00" y="454.5" width="1.0" height="40.2" fill="#62c196"/>
<rect x="489.8" y="434.2" width="452.8" height="89"  fill="rgba(150,152,160,0.18)" stroke="rgba(120,122,130,0.12)" stroke-width="1"/>
<line x1="0" y1="459.2" x2="1216" y2="459.2" stroke="#4f8a70" stroke-width="1" stroke-dasharray="1,2"/>
<rect x="492" y="578.5" width="448" height="5" fill="rgba(20,24,40,0.2)"/><line x1="492" y1="587.5" x2="941" y2="587.5" stroke="#3b49ac" stroke-width="2.1"/>
<path d="M937.8 583.6 L942.6 587.5 L937.8 591.4" fill="none" stroke="#5361d6" stroke-width="1.6"/>
</svg>
<div class="abs" style="left:1217px;top:452px;width:58px;height:15px;background:#55bd85;border-radius:0 2px 2px 0"></div>
<div class="abs" style="left:675px;top:598px;width:83px;height:38px;background:#2d2e31;border-radius:4px"></div>
<svg class="abs" style="left:0;top:660px" width="60" height="60" viewBox="0 660 60 60">
<circle cx="25.5" cy="689" r="14" fill="#0f0f11" stroke="#3d3d43" stroke-width="1.6"/>
<path d="M16.2 685.2 H25.6 V688.5 H24.1 V694.8 H20.8 V688.5 H16.2 Z" fill="#f2f2f2"/>
<circle cx="27.7" cy="687" r="1.3" fill="#f2f2f2"/>
<path d="M30.6 685.2 H35 L31.4 694.8 H27.2 Z" fill="#f2f2f2"/>
</svg>
<svg class="abs" style="left:1236px;top:714px" width="30" height="18" viewBox="1236 714 30 18">
<path d="M1247.3 721.8 H1253.7 L1256.9 727.4 L1253.7 733 H1247.3 L1244.1 727.4 Z" fill="none" stroke="#8c8e96" stroke-width="1.5"/>
<circle cx="1250.5" cy="727.4" r="2.1" fill="none" stroke="#8c8e96" stroke-width="1.4"/>
</svg>
<svg class="abs" style="left:190px;top:58px" width="50" height="14" viewBox="190 58 50 14"><circle cx="199.3" cy="65.1" r="1.3" fill="#c9cbd0"/><circle cx="225.8" cy="65.1" r="1.3" fill="#c9cbd0"/></svg>
<div class="tx" style="left:9.13px;top:-6.30px;font-size:13px;line-height:13px;color:#9c9ea6;transform:scaleX(0.9729);-webkit-text-stroke:0.3px #9c9ea6;">Info</div>
<div class="tx" style="left:46.40px;top:-6.30px;font-size:13px;line-height:13px;color:#9c9ea6;transform:scaleX(0.8696);-webkit-text-stroke:0.3px #9c9ea6;">Trading Data</div>
<div class="tx" style="left:127.40px;top:-6.30px;font-size:13px;line-height:13px;color:#9c9ea6;transform:scaleX(0.9094);-webkit-text-stroke:0.3px #9c9ea6;">Audit</div>
<div class="tx" style="left:0.00px;top:26.70px;font-size:12.4px;line-height:12.4px;color:#8b8d96;transform:scaleX(0.7757);-webkit-text-stroke:0.2px #8b8d96;">1s</div>
<div class="tx" style="left:19.00px;top:26.70px;font-size:12.4px;line-height:12.4px;color:#8b8d96;transform:scaleX(0.8199);-webkit-text-stroke:0.2px #8b8d96;">15m</div>
<div class="tx" style="left:48.00px;top:26.70px;font-size:12.4px;line-height:12.4px;color:#8b8d96;transform:scaleX(0.8529);-webkit-text-stroke:0.2px #8b8d96;">1H</div>
<div class="tx" style="left:69.10px;top:26.70px;font-size:12.4px;line-height:12.4px;color:#8b8d96;transform:scaleX(0.9200);-webkit-text-stroke:0.2px #8b8d96;">4H</div>
<div class="tx" style="left:91.80px;top:26.70px;font-size:12.4px;line-height:12.4px;color:#eeeff2;transform:scaleX(0.8307);font-weight:bold;">1D</div>
<div class="tx" style="left:114.50px;top:26.70px;font-size:12.4px;line-height:12.4px;color:#8b8d96;transform:scaleX(0.7252);-webkit-text-stroke:0.2px #8b8d96;">1W</div>
<div class="tx" style="left:305.19px;top:26.70px;font-size:12.4px;line-height:12.4px;color:#8b8d96;transform:scaleX(0.8118);-webkit-text-stroke:0.2px #8b8d96;">Last Price</div>
<div class="tx" style="left:1117.60px;top:26.60px;font-size:12.4px;line-height:12.4px;color:#7c7e87;transform:scaleX(0.8535);-webkit-text-stroke:0.2px #7c7e87;">Original</div>
<div class="tx" style="left:1168.00px;top:26.60px;font-size:12.4px;line-height:12.4px;color:#eeeff2;transform:scaleX(0.7837);font-weight:bold;">Trading View</div>
<div class="tx" style="left:1241.15px;top:26.60px;font-size:12.4px;line-height:12.4px;color:#7c7e87;transform:scaleX(0.8548);-webkit-text-stroke:0.2px #7c7e87;">Depth</div>
<div class="tx" style="left:9.40px;top:57.63px;font-size:13.2px;line-height:13.2px;color:#8f919a;transform:scaleX(0.9908);-webkit-text-stroke:0.3px #8f919a;">ZROUSDT Perpetual Last Price</div>
<div class="tx" style="left:205.29px;top:57.63px;font-size:13.2px;line-height:13.2px;color:#8f919a;transform:scaleX(0.9130);-webkit-text-stroke:0.3px #8f919a;">1D</div>
<div class="tx" style="left:231.09px;top:57.63px;font-size:13.2px;line-height:13.2px;color:#8f919a;transform:scaleX(1.0103);-webkit-text-stroke:0.3px #8f919a;">Binance</div>
<div class="tx" style="left:286.60px;top:56.67px;font-size:12.2px;line-height:12.2px;color:#8f919a;transform:scaleX(0.8222);-webkit-text-stroke:0.3px #8f919a;">O</div>
<div class="tx" style="left:294.50px;top:56.67px;font-size:12.2px;line-height:12.2px;color:#5dba8a;transform:scaleX(0.8836);-webkit-text-stroke:0.3px #5dba8a;">1.7998000</div>
<div class="tx" style="left:350.66px;top:56.67px;font-size:12.2px;line-height:12.2px;color:#8f919a;transform:scaleX(1.0429);-webkit-text-stroke:0.3px #8f919a;">H</div>
<div class="tx" style="left:359.50px;top:56.67px;font-size:12.2px;line-height:12.2px;color:#5dba8a;transform:scaleX(0.8836);-webkit-text-stroke:0.3px #5dba8a;">2.4587000</div>
<div class="tx" style="left:415.35px;top:56.67px;font-size:12.2px;line-height:12.2px;color:#8f919a;transform:scaleX(0.9500);-webkit-text-stroke:0.3px #8f919a;">L</div>
<div class="tx" style="left:422.30px;top:56.67px;font-size:12.2px;line-height:12.2px;color:#5dba8a;transform:scaleX(0.8801);-webkit-text-stroke:0.3px #5dba8a;">1.7965000</div>
<div class="tx" style="left:479.20px;top:56.67px;font-size:12.2px;line-height:12.2px;color:#8f919a;transform:scaleX(0.7556);-webkit-text-stroke:0.3px #8f919a;">C</div>
<div class="tx" style="left:486.30px;top:56.67px;font-size:12.2px;line-height:12.2px;color:#5dba8a;transform:scaleX(0.8715);-webkit-text-stroke:0.3px #5dba8a;">2.3815000</div>
<div class="tx" style="left:542.60px;top:56.67px;font-size:12.2px;line-height:12.2px;color:#5dba8a;transform:scaleX(0.8888);-webkit-text-stroke:0.3px #5dba8a;">0.5816999</div>
<div class="tx" style="left:597.50px;top:56.67px;font-size:12.2px;line-height:12.2px;color:#5dba8a;transform:scaleX(0.8671);-webkit-text-stroke:0.3px #5dba8a;">(+32.32%)</div>
<div class="tx" style="left:683.00px;top:602.52px;font-size:11.2px;line-height:11.2px;color:#e6e6e8;transform:scaleX(0.9097);-webkit-text-stroke:0.2px #e6e6e8;">363 bars, 363d</div>
<div class="tx" style="left:694.80px;top:619.72px;font-size:11.2px;line-height:11.2px;color:#e6e6e8;transform:scaleX(0.9403);-webkit-text-stroke:0.2px #e6e6e8;">Vol 6.45B</div>
<div class="tx" style="left:1223.90px;top:452.64px;font-size:12px;line-height:12px;color:#0a1f12;transform:scaleX(0.8186);font-weight:bold;">2.3815000</div>
<div class="tx" style="left:1223.50px;top:51.84px;font-size:12px;line-height:12px;color:#82848c;transform:scaleX(0.8291);-webkit-text-stroke:0.2px #82848c;">9.0000000</div>
<div class="tx" style="left:1223.50px;top:82.17px;font-size:12px;line-height:12px;color:#82848c;transform:scaleX(0.8291);-webkit-text-stroke:0.2px #82848c;">8.5000000</div>
<div class="tx" style="left:1223.50px;top:112.49px;font-size:12px;line-height:12px;color:#82848c;transform:scaleX(0.8291);-webkit-text-stroke:0.2px #82848c;">8.0000000</div>
<div class="tx" style="left:1223.50px;top:142.82px;font-size:12px;line-height:12px;color:#82848c;transform:scaleX(0.8291);-webkit-text-stroke:0.2px #82848c;">7.5000000</div>
<div class="tx" style="left:1223.50px;top:173.14px;font-size:12px;line-height:12px;color:#82848c;transform:scaleX(0.8291);-webkit-text-stroke:0.2px #82848c;">7.0000000</div>
<div class="tx" style="left:1223.50px;top:203.47px;font-size:12px;line-height:12px;color:#82848c;transform:scaleX(0.8291);-webkit-text-stroke:0.2px #82848c;">6.5000000</div>
<div class="tx" style="left:1223.50px;top:233.79px;font-size:12px;line-height:12px;color:#82848c;transform:scaleX(0.8291);-webkit-text-stroke:0.2px #82848c;">6.0000000</div>
<div class="tx" style="left:1223.50px;top:264.12px;font-size:12px;line-height:12px;color:#82848c;transform:scaleX(0.8291);-webkit-text-stroke:0.2px #82848c;">5.5000000</div>
<div class="tx" style="left:1223.50px;top:294.44px;font-size:12px;line-height:12px;color:#82848c;transform:scaleX(0.8291);-webkit-text-stroke:0.2px #82848c;">5.0000000</div>
<div class="tx" style="left:1223.50px;top:324.77px;font-size:12px;line-height:12px;color:#82848c;transform:scaleX(0.8291);-webkit-text-stroke:0.2px #82848c;">4.5000000</div>
<div class="tx" style="left:1223.50px;top:355.09px;font-size:12px;line-height:12px;color:#82848c;transform:scaleX(0.8291);-webkit-text-stroke:0.2px #82848c;">4.0000000</div>
<div class="tx" style="left:1223.50px;top:385.42px;font-size:12px;line-height:12px;color:#82848c;transform:scaleX(0.8291);-webkit-text-stroke:0.2px #82848c;">3.5000000</div>
<div class="tx" style="left:1223.50px;top:415.74px;font-size:12px;line-height:12px;color:#82848c;transform:scaleX(0.8291);-webkit-text-stroke:0.2px #82848c;">3.0000000</div>
<div class="tx" style="left:1223.50px;top:446.07px;font-size:12px;line-height:12px;color:#82848c;transform:scaleX(0.8291);-webkit-text-stroke:0.2px #82848c;">2.5000000</div>
<div class="tx" style="left:1223.50px;top:476.39px;font-size:12px;line-height:12px;color:#82848c;transform:scaleX(0.8291);-webkit-text-stroke:0.2px #82848c;">2.0000000</div>
<div class="tx" style="left:1223.50px;top:506.72px;font-size:12px;line-height:12px;color:#82848c;transform:scaleX(0.8291);-webkit-text-stroke:0.2px #82848c;">1.5000000</div>
<div class="tx" style="left:1223.50px;top:537.04px;font-size:12px;line-height:12px;color:#82848c;transform:scaleX(0.8291);-webkit-text-stroke:0.2px #82848c;">1.0000000</div>
<div class="tx" style="left:1223.50px;top:567.37px;font-size:12px;line-height:12px;color:#82848c;transform:scaleX(0.8291);-webkit-text-stroke:0.2px #82848c;">0.5000000</div>
<div class="tx" style="left:1223.50px;top:597.69px;font-size:12px;line-height:12px;color:#82848c;transform:scaleX(0.8291);-webkit-text-stroke:0.2px #82848c;">0.0000000</div>
<div class="tx" style="left:1223.50px;top:628.02px;font-size:12px;line-height:12px;color:#82848c;transform:scaleX(0.8240);-webkit-text-stroke:0.2px #82848c;">-0.5000000</div>
<div class="tx" style="left:1223.50px;top:658.34px;font-size:12px;line-height:12px;color:#82848c;transform:scaleX(0.8240);-webkit-text-stroke:0.2px #82848c;">-1.0000000</div>
<div class="tx" style="left:1223.50px;top:688.67px;font-size:12px;line-height:12px;color:#82848c;transform:scaleX(0.8240);-webkit-text-stroke:0.2px #82848c;">-1.5000000</div>
<div class="tx" style="left:205.90px;top:720.87px;font-size:11.5px;line-height:11.5px;color:#8a8c94;transform:scaleX(0.9968);-webkit-text-stroke:0.2px #8a8c94;">Jul</div>
<div class="tx" style="left:280.90px;top:720.87px;font-size:11.5px;line-height:11.5px;color:#8a8c94;transform:scaleX(0.7924);-webkit-text-stroke:0.2px #8a8c94;">Sep</div>
<div class="tx" style="left:356.00px;top:720.87px;font-size:11.5px;line-height:11.5px;color:#8a8c94;transform:scaleX(0.8116);-webkit-text-stroke:0.2px #8a8c94;">Nov</div>
<div class="tx" style="left:427.90px;top:720.87px;font-size:11.5px;line-height:11.5px;color:#8a8c94;transform:scaleX(0.9203);font-weight:bold;">2025</div>
<div class="tx" style="left:504.00px;top:720.87px;font-size:11.5px;line-height:11.5px;color:#8a8c94;transform:scaleX(0.8510);-webkit-text-stroke:0.2px #8a8c94;">Mar</div>
<div class="tx" style="left:578.60px;top:720.87px;font-size:11.5px;line-height:11.5px;color:#8a8c94;transform:scaleX(0.8510);-webkit-text-stroke:0.2px #8a8c94;">May</div>
<div class="tx" style="left:656.90px;top:720.87px;font-size:11.5px;line-height:11.5px;color:#8a8c94;transform:scaleX(0.9261);-webkit-text-stroke:0.2px #8a8c94;">Jul</div>
<div class="tx" style="left:731.90px;top:720.87px;font-size:11.5px;line-height:11.5px;color:#8a8c94;transform:scaleX(0.8173);-webkit-text-stroke:0.2px #8a8c94;">Sep</div>
<div class="tx" style="left:806.90px;top:720.87px;font-size:11.5px;line-height:11.5px;color:#8a8c94;transform:scaleX(0.8261);-webkit-text-stroke:0.2px #8a8c94;">Nov</div>
<div class="tx" style="left:879.50px;top:720.87px;font-size:11.5px;line-height:11.5px;color:#8a8c94;transform:scaleX(0.9132);font-weight:bold;">2026</div>
<div class="tx" style="left:955.20px;top:720.87px;font-size:11.5px;line-height:11.5px;color:#8a8c94;transform:scaleX(0.8210);-webkit-text-stroke:0.2px #8a8c94;">Mar</div>
<div class="tx" style="left:1030.00px;top:720.87px;font-size:11.5px;line-height:11.5px;color:#8a8c94;transform:scaleX(0.8100);-webkit-text-stroke:0.2px #8a8c94;">May</div>
<div class="tx" style="left:1107.60px;top:720.87px;font-size:11.5px;line-height:11.5px;color:#8a8c94;transform:scaleX(0.9473);-webkit-text-stroke:0.2px #8a8c94;">Jul</div>
<div class="tx" style="left:1182.60px;top:720.87px;font-size:11.5px;line-height:11.5px;color:#8a8c94;transform:scaleX(0.8173);-webkit-text-stroke:0.2px #8a8c94;">Sep</div>
</body></html>
